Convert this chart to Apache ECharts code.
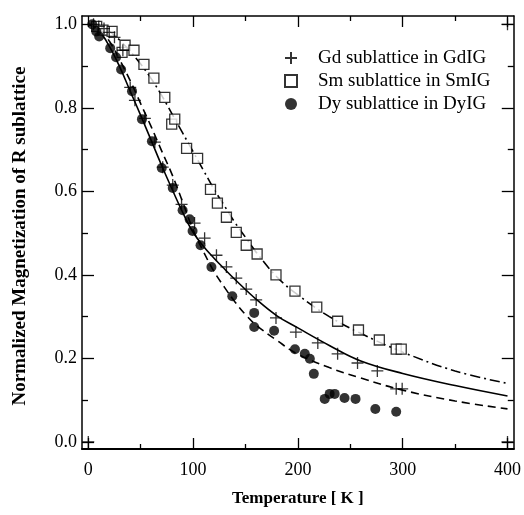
<!DOCTYPE html>
<html>
<head>
<meta charset="utf-8">
<script src="https://cdn.jsdelivr.net/npm/echarts@6/dist/echarts.min.js"></script>
<style>
html,body{margin:0;padding:0;background:#fff;}
#chart{width:524px;height:515px;}
</style>
</head>
<body>
<div id="chart"></div>
<script>
// ---- data ----
const gdT = [5, 10, 15, 20, 25, 33, 40, 44.5, 54, 63.5, 71, 80.6, 89, 101.4, 111, 122.3, 131.8, 141.2, 150.7, 160.2, 179.1, 198.1, 219, 237.9, 256.9, 275.8, 293.8, 299.5];
const gdM = [1.0, 0.995, 0.99, 0.981, 0.969, 0.938, 0.849, 0.818, 0.775, 0.718, 0.658, 0.615, 0.569, 0.524, 0.488, 0.447, 0.419, 0.392, 0.366, 0.34, 0.297, 0.263, 0.237, 0.211, 0.189, 0.17, 0.127, 0.127];

const smT = [8, 14, 22.7, 32.2, 35.1, 43.6, 53.1, 62.6, 73, 79.6, 82.5, 93.8, 104.3, 116.6, 123.2, 131.8, 141.2, 150.7, 161.1, 179.1, 197.2, 218, 237.9, 257.8, 277.7, 293.8, 298.6];
const smM = [0.995, 0.986, 0.983, 0.933, 0.95, 0.938, 0.904, 0.871, 0.825, 0.761, 0.773, 0.703, 0.679, 0.605, 0.572, 0.538, 0.502, 0.471, 0.45, 0.4, 0.361, 0.323, 0.289, 0.268, 0.244, 0.222, 0.222];

const dyT = [3.8, 7.6, 10.4, 20.9, 26.5, 31.3, 41.7, 51.2, 60.7, 70.1, 80.6, 90, 96.7, 99.5, 107.1, 117.5, 137.4, 158.3, 158.3, 177.3, 197.2, 206.6, 211.4, 215.2, 225.6, 230.3, 235.1, 244.5, 255, 273.9, 293.8];
const dyM = [1.0, 0.983, 0.971, 0.943, 0.921, 0.892, 0.84, 0.773, 0.72, 0.656, 0.608, 0.555, 0.533, 0.505, 0.471, 0.419, 0.349, 0.309, 0.275, 0.266, 0.222, 0.211, 0.199, 0.163, 0.103, 0.115, 0.115, 0.105, 0.103, 0.079, 0.072];

const cornerT = [0, 400, 400];
const cornerM = [0, 0, 1.0];

// fitted curves
const gdFitT = [0, 10, 20, 30, 40, 50, 60, 70, 80, 90, 100, 110, 120, 130, 140, 160, 180, 200, 230, 260, 300, 350, 400];
const gdFitM = [1.0, 0.985, 0.948, 0.898, 0.84, 0.782, 0.722, 0.662, 0.605, 0.55, 0.502, 0.468, 0.44, 0.414, 0.389, 0.342, 0.302, 0.273, 0.231, 0.194, 0.164, 0.135, 0.11];

const dyFitT = [0, 10, 20, 30, 40, 50, 60, 70, 80, 90, 100, 110, 120, 130, 140, 150, 160, 180, 200, 230, 260, 300, 350, 400];
const dyFitM = [1.0, 0.99, 0.96, 0.915, 0.865, 0.81, 0.755, 0.697, 0.64, 0.575, 0.508, 0.455, 0.408, 0.37, 0.335, 0.305, 0.28, 0.243, 0.21, 0.178, 0.153, 0.124, 0.098, 0.079];

const smFitT = [0, 10, 20, 30, 40, 50, 60, 70, 80, 90, 100, 110, 120, 130, 140, 150, 160, 180, 200, 230, 260, 300, 350, 400];
const smFitM = [1.0, 0.995, 0.983, 0.962, 0.935, 0.905, 0.87, 0.83, 0.785, 0.74, 0.695, 0.65, 0.605, 0.565, 0.525, 0.49, 0.455, 0.395, 0.352, 0.3, 0.26, 0.215, 0.17, 0.14];

const xMajor = [0, 100, 200, 300, 400];
const xMinor = [50, 150, 250, 350];
const yMajor = [0, 0.2, 0.4, 0.6, 0.8, 1.0];
const yMinor = [0.1, 0.3, 0.5, 0.7, 0.9];

const seriesNames = ['Gd sublattice in GdIG', 'Sm sublattice in SmIG', 'Dy sublattice in DyIG'];
const xTitle = 'Temperature [ K ]';
const yTitle = 'Normalized Magnetization of R sublattice';

// ---- build ----
const zip = (a, b) => a.map((v, i) => [v, b[i]]);
const FONT = '"Liberation Serif", "DejaVu Serif", serif';
const X_MIN = -6, X_MAX = 406, Y_MIN = -0.017, Y_MAX = 1.02;
const crossPath = 'path://M0,5L10,5M5,0L5,10';

function xAx(position, ticks, len, showLine, showLabel, name) {
  return {
    type: 'value', min: X_MIN, max: X_MAX, position: position,
    splitLine: {show: false},
    axisLine: {show: showLine, onZero: false, lineStyle: {color: '#000', width: position === 'bottom' ? 2 : 1.5}},
    axisTick: {show: true, inside: true, length: len, customValues: ticks, lineStyle: {color: '#000', width: 1.3}},
    axisLabel: {show: showLabel, customValues: ticks, margin: 12, color: '#000', fontFamily: FONT, fontSize: 18},
    name: name || '', nameLocation: 'middle', nameGap: 41,
    nameTextStyle: {color: '#000', fontFamily: FONT, fontSize: 17, fontWeight: 'bold'}
  };
}
function yAx(position, ticks, len, showLine, showLabel) {
  return {
    type: 'value', min: Y_MIN, max: Y_MAX, position: position,
    splitLine: {show: false},
    axisLine: {show: showLine, onZero: false, lineStyle: {color: '#000', width: 1.5}},
    axisTick: {show: true, inside: true, length: len, customValues: ticks, lineStyle: {color: '#000', width: 1.3}},
    axisLabel: {show: showLabel, customValues: ticks, margin: 5, color: '#000', fontFamily: FONT, fontSize: 18,
      formatter: v => v.toFixed(1)}
  };
}

const chart = echarts.init(document.getElementById('chart'), null, {renderer: 'canvas'});
chart.setOption({
  animation: false,
  backgroundColor: '#fff',
  grid: {left: 82, right: 8, top: 16, bottom: 66, containLabel: false},
  xAxis: [
    xAx('bottom', xMajor, 11, true, true, xTitle),
    xAx('bottom', xMinor, 5, false, false),
    xAx('top', xMajor, 11, true, false),
    xAx('top', xMinor, 5, false, false)
  ],
  yAxis: [
    yAx('left', yMajor, 12, true, true),
    yAx('left', yMinor, 6, false, false),
    yAx('right', yMajor, 12, true, false),
    yAx('right', yMinor, 6, false, false)
  ],
  legend: {
    orient: 'vertical', left: 284, top: 48, itemWidth: 12, itemHeight: 12, itemGap: 3,
    padding: 0,
    data: seriesNames,
    textStyle: {color: '#000', fontFamily: FONT, fontSize: 19, lineHeight: 20, padding: [0, 0, 0, 16]}
  },
  graphic: [{
    type: 'text', x: 20, y: 236, rotation: Math.PI / 2,
    style: {text: yTitle, fill: '#000', font: 'bold 19px ' + FONT, align: 'center', verticalAlign: 'middle'}
  }],
  series: [
    {type: 'line', name: 'gdFit', data: zip(gdFitT, gdFitM), smooth: 0.4, showSymbol: false, silent: true,
      lineStyle: {color: '#000', width: 1.6}, z: 2},
    {type: 'line', name: 'dyFit', data: zip(dyFitT, dyFitM), smooth: 0.4, showSymbol: false, silent: true,
      lineStyle: {color: '#000', width: 1.6, type: [8, 5]}, z: 2},
    {type: 'line', name: 'smFit', data: zip(smFitT, smFitM), smooth: 0.4, showSymbol: false, silent: true,
      lineStyle: {color: '#000', width: 1.6, type: [10, 4, 2, 4]}, z: 2},
    {type: 'scatter', name: seriesNames[0], data: zip(gdT, gdM), symbol: crossPath, symbolSize: 12,
      itemStyle: {color: 'rgba(0,0,0,0)', borderColor: '#000', borderWidth: 1.3}, z: 5},
    {type: 'scatter', name: seriesNames[1], data: zip(smT, smM), symbol: 'rect', symbolSize: 10,
      itemStyle: {color: '#fff', borderColor: '#000', borderWidth: 1.3}, z: 4},
    {type: 'scatter', name: seriesNames[2], data: zip(dyT, dyM), symbol: 'circle', symbolSize: 10,
      itemStyle: {color: '#000'}, z: 6},
    {type: 'scatter', name: 'corner', data: zip(cornerT, cornerM), symbol: crossPath, symbolSize: 12,
      itemStyle: {color: 'rgba(0,0,0,0)', borderColor: '#000', borderWidth: 1.3}, z: 5}
  ]
});
</script>
</body>
</html>
